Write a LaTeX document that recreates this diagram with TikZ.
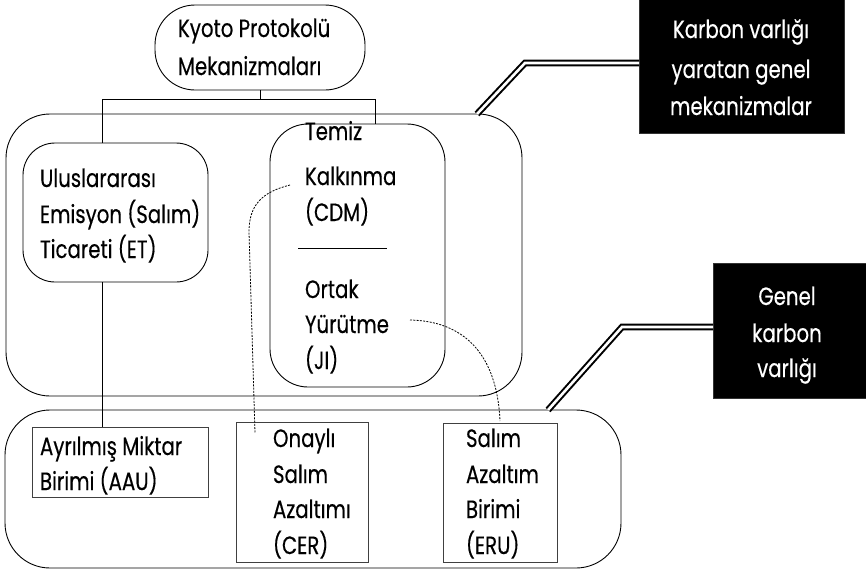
\documentclass[tikz,border=0pt]{standalone}
\usepackage{fontspec}
\setmainfont[FakeStretch=0.79,FakeBold=0.35]{Poppins}
\begin{document}
\begin{tikzpicture}[x=1pt,y=-1pt,
  every node/.style={inner sep=0pt, outer sep=0pt},
  rbox/.style={draw, line width=0.9pt, rounded corners=#1},
  sbox/.style={draw=black!75, line width=1pt},
  blk/.style={fill=black, draw=black!80},
  lbl/.style={anchor=base west, font=\fontsize{25}{29}\selectfont},
  wlbl/.style={anchor=base, text=white, font=\fontsize{25}{29}\selectfont},
  link/.style={line width=0.8pt},
  dlink/.style={line width=0.8pt, dash pattern=on 2pt off 1.3pt},
  dbl/.style={draw=black, line width=2pt, double=white, double distance=2.6pt}]
\useasboundingbox (0,0) rectangle (866,571);
% boxes
\node[rbox=40, minimum width=210pt, minimum height=85pt] (kyoto) at (260,47.5) {};
\node[rbox=44, minimum width=516pt, minimum height=282pt] (outer1) at (264,255) {};
\node[rbox=32, minimum width=185pt, minimum height=139pt] (et) at (115.5,212.5) {};
\node[rbox=38, minimum width=175pt, minimum height=263pt] (cdm) at (357.5,255.5) {};
\node[rbox=45, minimum width=616pt, minimum height=158pt] (outer2) at (313,489) {};
\node[sbox, minimum width=176pt, minimum height=70pt] (aau) at (120,462) {};
\node[sbox, minimum width=132pt, minimum height=140pt] (cer) at (302,492) {};
\node[sbox, minimum width=114pt, minimum height=139pt] (eru) at (500,492.5) {};
\node[blk, minimum width=205pt, minimum height=134pt] (black1) at (741.5,66) {};
\node[blk, minimum width=155pt, minimum height=135pt] (black2) at (790.5,330.5) {};
% texts
\node[lbl] (k1) at (178,37) {Kyoto Protokolü};
\node[lbl] (k2) at (178,75) {Mekanizmaları};
\node[lbl] (e1) at (40,187) {Uluslararası};
\node[lbl] (e2) at (40,223) {Emisyon (Salım)};
\node[lbl] (e3) at (40,258) {Ticareti (ET)};
\node[lbl] (c1) at (305,140) {Temiz};
\node[lbl] (c2) at (305,185) {Kalkınma};
\node[lbl] (c3) at (305,221) {(CDM)};
\node[lbl] (j1) at (305,298) {Ortak};
\node[lbl] (j2) at (305,333) {Yürütme};
\node[lbl] (j3) at (305,369) {(JI)};
\node[lbl] (a1) at (40,455) {Ayrılmış Miktar};
\node[lbl] (a2) at (40,490) {Birimi (AAU)};
\node[lbl] (r1) at (273,447) {Onaylı};
\node[lbl] (r2) at (273,483) {Salım};
\node[lbl] (r3) at (273,518) {Azaltımı};
\node[lbl] (r4) at (273,554) {(CER)};
\node[lbl] (u1) at (466,447) {Salım};
\node[lbl] (u2) at (466,483) {Azaltım};
\node[lbl] (u3) at (466,518) {Birimi};
\node[lbl] (u4) at (466,554) {(ERU)};
\node[wlbl] (b1) at (741,38) {Karbon varlığı};
\node[wlbl] (b2) at (741,78) {yaratan genel};
\node[wlbl] (b3) at (741,115) {mekanizmalar};
\node[wlbl] (g1) at (787,305) {Genel};
\node[wlbl] (g2) at (787,342) {karbon};
\node[wlbl] (g3) at (787,377) {varlığı};
% separator
\coordinate (s1) at (298,248);
\coordinate (s2) at (387,248);
\draw[link] (s1) -- (s2);
% tree connectors
\coordinate (jm) at (260,99);
\coordinate (jl) at (102,99);
\coordinate (jr) at (375,99);
\draw[link] (kyoto.south) -- (jm);
\draw[link] (jl) -- (jr);
\draw[link] (jl) -- (jl |- et.north);
\draw[link] (jr) -- (jr |- cdm.north);
\draw[link] (jl |- et.south) -- (jl |- aau.north);
% dashed
\coordinate (dc) at (290,185);
\coordinate (dcer) at (255,433);
\draw[dlink] (dc) .. controls (262,192) and (249,205) .. (249,232) -- (dcer);
\coordinate (dj) at (410,320);
\coordinate (deru) at (500,421);
\draw[dlink] (dj) .. controls (462,321) and (497,352) .. (deru);
% callout double lines
\coordinate (m1) at (525,63);
\coordinate (t1) at (477,114);
\draw[dbl] ([yshift=3pt]black1.west) -- (m1) -- (t1);
\coordinate (m2) at (622,327);
\coordinate (t2) at (548,410);
\draw[dbl] ([yshift=3.5pt]black2.west) -- (m2) -- (t2);
\end{tikzpicture}
\end{document}
